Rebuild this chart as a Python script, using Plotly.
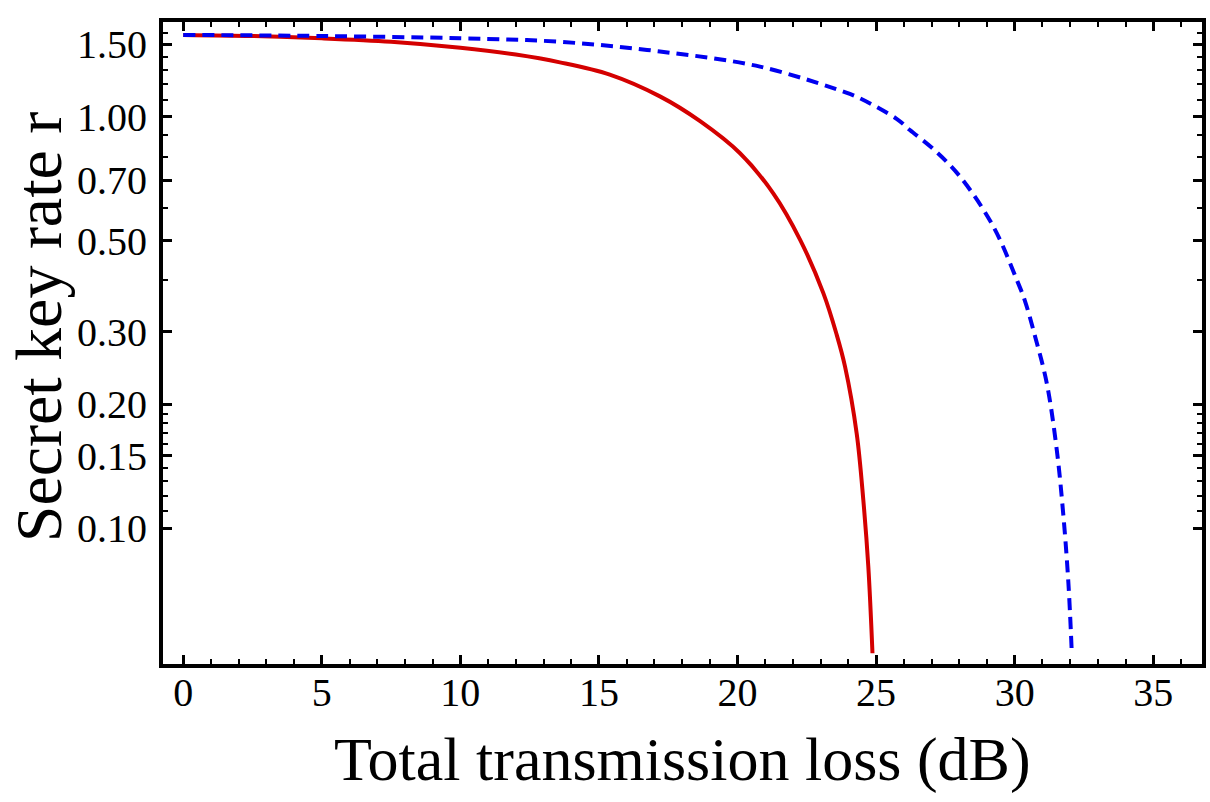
import numpy as np
import plotly.graph_objects as go

# Red solid curve
red_x = [0, 2.5, 5, 7.5, 10, 12, 13.59, 15.39, 17.2, 18.65, 20.09, 21.29, 22.26, 23.1, 23.58, 23.88, 24.3, 24.54, 24.72, 24.87]
red_y = [1.58, 1.57, 1.55, 1.52, 1.47, 1.415, 1.355, 1.265, 1.12, 0.975, 0.815, 0.651, 0.502, 0.372, 0.295, 0.247, 0.170, 0.117, 0.0807, 0.0497]

# Blue dashed curve
blue_x = [0, 5, 10, 13.59, 17.2, 20.81, 23.82, 24.42, 25.74, 26.22, 27.1, 28.03, 29.23, 30.08, 30.37, 30.74, 31.16, 31.52, 31.76, 31.94, 32.06]
blue_y = [1.58, 1.57, 1.55, 1.52, 1.44, 1.323, 1.15, 1.108, 0.988, 0.928, 0.83, 0.715, 0.541, 0.401, 0.357, 0.292, 0.225, 0.155, 0.107, 0.0735, 0.0501]

y_tickvals = [0.10, 0.15, 0.20, 0.30, 0.50, 0.70, 1.00, 1.50]
y_ticktext = ["0.10", "0.15", "0.20", "0.30", "0.50", "0.70", "1.00", "1.50"]
y_minor = [0.11, 0.12, 0.13, 0.14, 0.16, 0.17, 0.18, 0.19, 0.4, 0.6, 0.8, 0.9, 1.1, 1.2, 1.3, 1.4, 1.6]
x_tickvals = [0, 5, 10, 15, 20, 25, 30, 35]
x_minor = [v for v in range(0, 37) if v % 5 != 0]

FONT = "Liberation Serif, Times New Roman, serif"

fig = go.Figure()
fig.add_trace(go.Scatter(x=red_x, y=red_y, mode="lines",
                         line=dict(color="#d40000", width=4, shape="spline", smoothing=1.0),
                         showlegend=False))
fig.add_trace(go.Scatter(x=blue_x, y=blue_y, mode="lines",
                         line=dict(color="#0000f0", width=4, dash="12px,7px", shape="spline", smoothing=1.0),
                         showlegend=False))

fig.update_layout(
    template="simple_white",
    width=1210, height=802,
    margin=dict(l=163, r=8, t=22, b=138, autoexpand=False),
    paper_bgcolor="white", plot_bgcolor="white",
    font=dict(family=FONT, color="black"),
    showlegend=False,
)
fig.update_xaxes(
    automargin=False,
    range=[-0.73, 36.76],
    tickvals=x_tickvals, ticktext=[str(v) for v in x_tickvals],
    ticks="inside", ticklen=9, tickwidth=2.5, tickcolor="black",
    minor=dict(tickvals=x_minor, ticks="inside", ticklen=5, tickwidth=2, tickcolor="black", showgrid=False),
    showline=True, linewidth=4, linecolor="black", mirror="ticks",
    showgrid=False, zeroline=False,
    tickfont=dict(size=40, family=FONT, color="black"),
    ticklabelstandoff=-10,
)
fig.update_yaxes(
    automargin=False,
    type="log",
    range=[np.log10(0.0468), np.log10(1.698)],
    tickvals=y_tickvals, ticktext=y_ticktext,
    ticks="inside", ticklen=9, tickwidth=2.5, tickcolor="black",
    minor=dict(tickvals=y_minor, ticks="inside", ticklen=5, tickwidth=2, tickcolor="black", showgrid=False),
    showline=True, linewidth=4, linecolor="black", mirror="ticks",
    showgrid=False, zeroline=False,
    tickfont=dict(size=40, family=FONT, color="black"),
    ticklabelstandoff=4,
)
fig.add_annotation(text="Secret key rate r", xref="paper", yref="paper",
                   x=-0.119, y=0.525, xanchor="center", yanchor="middle",
                   textangle=-90, showarrow=False, font=dict(size=66, family=FONT, color="black"))
fig.add_annotation(text="Total transmission loss (dB)", xref="paper", yref="paper",
                   x=0.5, y=-0.1495, xanchor="center", yanchor="middle",
                   showarrow=False, font=dict(size=62, family=FONT, color="black"))

fig.write_html("out.html", config={"displayModeBar": False},
               post_script="document.body.style.margin='0';document.body.style.overflow='hidden';")
